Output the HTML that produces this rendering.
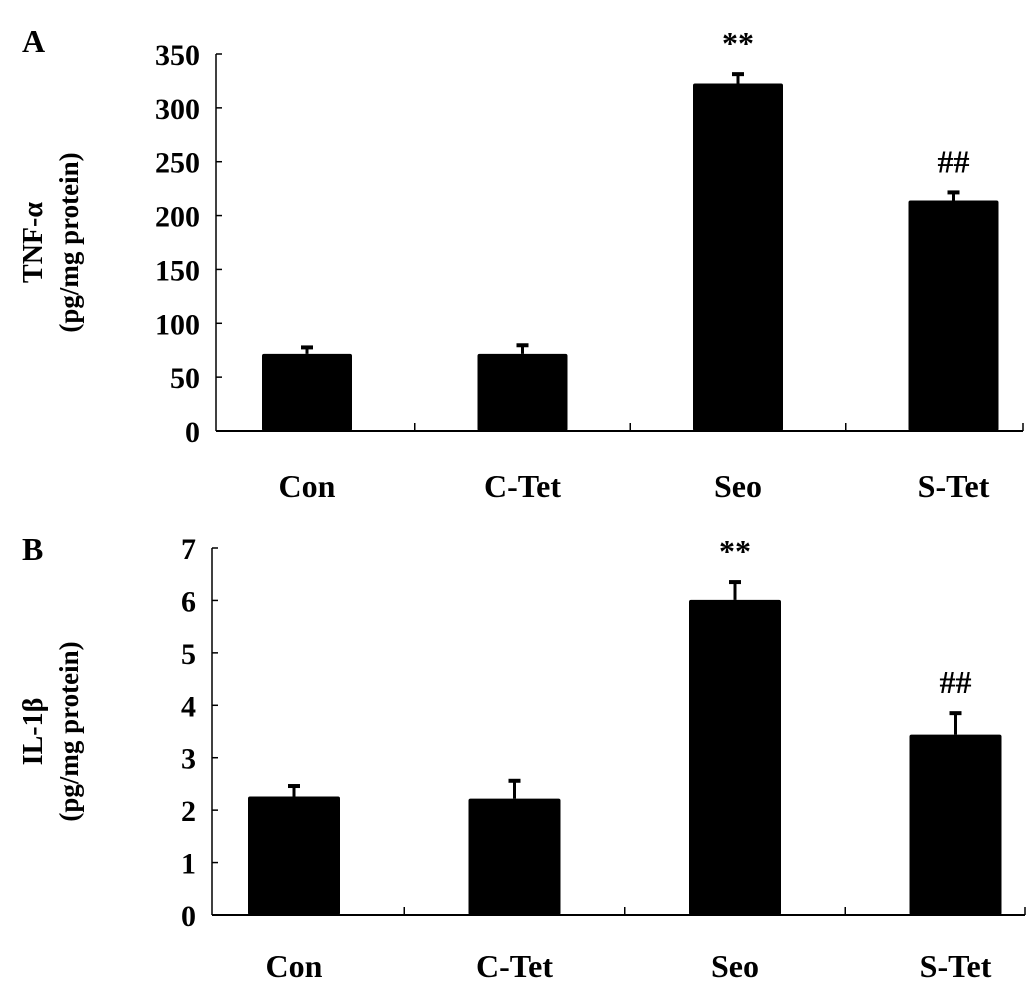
<!DOCTYPE html>
<html><head><meta charset="utf-8"><style>
html,body{margin:0;padding:0;background:#fff;}
svg{display:block;font-family:"Liberation Serif",serif;font-weight:bold;}
</style></head><body>
<svg id="fig" width="1033" height="991" viewBox="0 0 1033 991"></svg>
<script>
const categories = ["Con","C-Tet","Seo","S-Tet"];
const tnfValues = [71.6, 71.6, 322.6, 214];
const tnfErrors = [6, 8, 8.7, 7.5];
const tnfTicks = [0,50,100,150,200,250,300,350];
const tnfMarks = ["", "", "**", "##"];
const ilValues = [2.26, 2.22, 6.01, 3.44];
const ilErrors = [0.2, 0.34, 0.34, 0.41];
const ilTicks = [0,1,2,3,4,5,6,7];
const ilMarks = ["", "", "**", "##"];

const NS = "http://www.w3.org/2000/svg";
const svg = document.getElementById('fig');
function mk(tag, attrs, parent, text){
  const e = document.createElementNS(NS, tag);
  for (const k in attrs) e.setAttribute(k, attrs[k]);
  if (text !== undefined) e.textContent = text;
  (parent || svg).appendChild(e);
  return e;
}

function panel(cfg){
  const g = mk('g', {});
  
  
  const y = v => cfg.y0 - (v - cfg.vmin) / (cfg.vmax - cfg.vmin) * (cfg.y0 - cfg.y1);
  const cx = i => cfg.x0 + cfg.firstOff + i * cfg.step;
  const L = mk('text', {x: 22, y: cfg.letterY, 'font-size': 32}, g, cfg.letter);
  
  
  const ya = mk('line', {x1: cfg.x0, y1: y(cfg.vmax), x2: cfg.x0, y2: cfg.y0, stroke: '#000', 'stroke-width': 1.5}, g);
  
  
  cfg.ticks.forEach(t => {
    const tl = mk('line', {x1: cfg.x0, y1: y(t), x2: cfg.x0 + 6, y2: y(t), stroke: '#000', 'stroke-width': 1.5}, g);
    
    
    const tx = mk('text', {x: cfg.x0 - 16, y: y(t) + 11, 'font-size': 30, 'text-anchor': 'end'}, g, String(t));
    
    
  });
  const xa = mk('line', {x1: cfg.x0, y1: cfg.y0, x2: cfg.xEnd, y2: cfg.y0, stroke: '#000', 'stroke-width': 2}, g);
  
  
  for (let i = 1; i < categories.length; i++){
    const xt = (cx(i - 1) + cx(i)) / 2;
    const tk = mk('line', {x1: xt, y1: cfg.y0, x2: xt, y2: cfg.y0 - 8, stroke: '#000', 'stroke-width': 1.5}, g);
    
    
  }
  const tkE = mk('line', {x1: cfg.xEnd, y1: cfg.y0, x2: cfg.xEnd, y2: cfg.y0 - 8, stroke: '#000', 'stroke-width': 1.5}, g);
  
  
  categories.forEach((c, i) => {
    const v = cfg.values[i], e = cfg.errors[i], x = cx(i);
    const b = mk('rect', {x: x - cfg.bw / 2, y: y(v), width: cfg.bw, height: cfg.y0 - y(v), fill: '#000', rx: 2}, g);
    
    
    const el = mk('line', {x1: x, y1: y(v), x2: x, y2: y(v + e), stroke: '#000', 'stroke-width': 3}, g);
    
    
    const ec = mk('line', {x1: x - 6, y1: y(v + e), x2: x + 6, y2: y(v + e), stroke: '#000', 'stroke-width': 4}, g);
    
    
    if (cfg.marks[i]){
      const m = mk('text', {x: x, y: y(v + e) - 20, 'font-size': 32, 'text-anchor': 'middle'}, g, cfg.marks[i]);
      
      
    }
    const lb = mk('text', {x: x, y: cfg.labelY, 'font-size': 32, 'text-anchor': 'middle'}, g, c);
    
    
  });
  const mid = (y(cfg.vmax) + cfg.y0) / 2;
  const t1 = mk('text', {x: 0, y: 0, 'font-size': 28, 'text-anchor': 'middle', transform: `translate(42 ${mid}) rotate(-90)`}, g, cfg.title1);
  
  
  const t2 = mk('text', {x: 0, y: 0, 'font-size': 27, 'text-anchor': 'middle', transform: `translate(78 ${mid}) rotate(-90)`}, g, cfg.title2);
  
  
}

panel({name: 'panel-a-tnf', letter: 'A', letterY: 52, values: tnfValues, errors: tnfErrors, marks: tnfMarks, ticks: tnfTicks,
  vmin: 0, vmax: 350, y0: 431, y1: 54, x0: 216, xEnd: 1023, firstOff: 91, step: 215.5, bw: 90, labelY: 497,
  title1: 'TNF-α', title2: '(pg/mg protein)'});
panel({name: 'panel-b-il1b', letter: 'B', letterY: 560, values: ilValues, errors: ilErrors, marks: ilMarks, ticks: ilTicks,
  vmin: 0, vmax: 7, y0: 915, y1: 548, x0: 212, xEnd: 1025, firstOff: 82, step: 220.5, bw: 92, labelY: 977,
  title1: 'IL-1β', title2: '(pg/mg protein)'});
</script>
</body></html>
